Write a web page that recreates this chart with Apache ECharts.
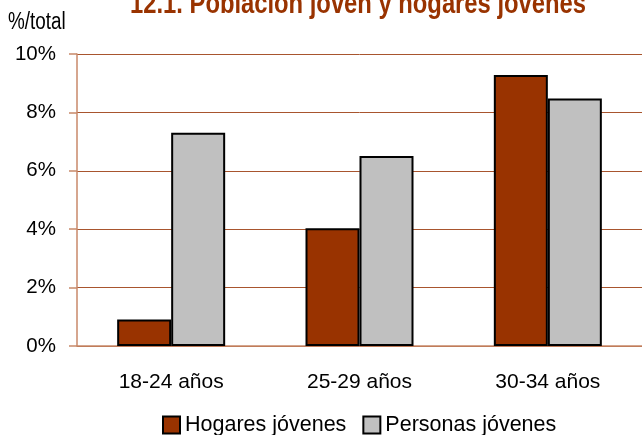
<!DOCTYPE html>
<html><head><meta charset="utf-8">
<script src="https://cdn.jsdelivr.net/npm/echarts@6/dist/echarts.min.js"></script>
<style>html,body{margin:0;padding:0;background:#fff}#c{width:642px;height:435px}</style>
</head><body><div id="c"></div>
<script>
const categories = ['18-24 años', '25-29 años', '30-34 años'];
const hogares = [0.91, 4.03, 9.28];
const personas = [7.30, 6.51, 8.48];
const seriesNames = ['Hogares jóvenes', 'Personas jóvenes'];
const titleText = '12.1. Población joven y hogares jóvenes';
const unitLabel = '%/total';

const FONT = '"Liberation Sans", Arial, sans-serif';
const chart = echarts.init(document.getElementById('c'), null, {renderer: 'canvas'});
chart.setOption({
  animation: false,
  backgroundColor: '#fff',
  graphic: [
    {type: 'text', x: 358, y: 5, scaleX: 0.82, originX: 0, originY: 0,
     style: {text: titleText, fontFamily: FONT, fontSize: 29, fontWeight: 'bold', fill: '#993300',
             align: 'center', verticalAlign: 'middle'}},
    {type: 'text', x: 8, y: 23, scaleX: 0.82, originX: 0, originY: 0,
     style: {text: unitLabel, fontFamily: FONT, fontSize: 23, fill: '#000',
             align: 'left', verticalAlign: 'middle'}}
  ],
  legend: {
    top: 414, left: 162, padding: 0, itemWidth: 17, itemHeight: 17, itemGap: 16,
    icon: 'rect',
    textStyle: {fontFamily: FONT, fontSize: 21.5, color: '#000'},
    data: seriesNames
  },
  grid: {left: 77, right: -5, top: 54, bottom: 89, containLabel: false},
  xAxis: {
    type: 'category', data: categories,
    axisLine: {lineStyle: {color: '#c8896a', width: 1.5}},
    axisTick: {show: false},
    axisLabel: {fontFamily: FONT, fontSize: 21, color: '#000', margin: 26}
  },
  yAxis: {
    type: 'value', min: 0, max: 10, interval: 2,
    axisLine: {show: true, lineStyle: {color: '#c8896a', width: 1.5}},
    axisTick: {show: true, length: 8, lineStyle: {color: '#c8896a', width: 1.5}},
    axisLabel: {fontFamily: FONT, fontSize: 20.5, color: '#000', margin: 21, formatter: '{value}%'},
    splitLine: {lineStyle: {color: '#a8552e', width: 1}}
  },
  series: [
    {name: seriesNames[0], type: 'bar', data: hogares, barWidth: 54, barGap: '0%',
     itemStyle: {color: '#993300', borderColor: '#000', borderWidth: 2}},
    {name: seriesNames[1], type: 'bar', data: personas, barWidth: 54, barGap: '0%',
     itemStyle: {color: '#c0c0c0', borderColor: '#000', borderWidth: 2}}
  ]
});
</script></body></html>
